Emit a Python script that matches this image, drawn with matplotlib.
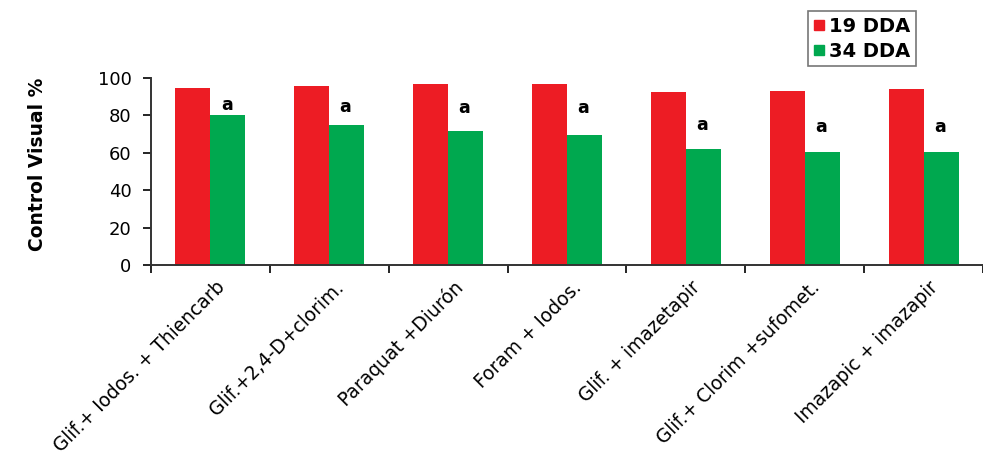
import matplotlib.pyplot as plt
import numpy as np
from matplotlib.lines import Line2D
from matplotlib.transforms import ScaledTranslation

# values
treatments = ['Glif.+ Iodos. + Thiencarb', 'Glif.+2,4-D+clorim.', 'Paraquat +Diurón',
              'Foram + Iodos.', 'Glif. + imazetapir', 'Glif.+ Clorim +sufomet.',
              'Imazapic + imazapir']
dda19 = [94.7, 95.7, 96.8, 96.8, 92.5, 93.0, 94.1]
dda34 = [80.2, 74.9, 71.7, 69.5, 62.0, 60.4, 60.4]
letters = ['a', 'a', 'a', 'a', 'a', 'a', 'a']
letter_y = [85.6, 84.5, 84.0, 84.0, 75.0, 74.0, 74.0]
series_names = ['19 DDA', '34 DDA']

RED = '#ED1C24'
GREEN = '#00A84F'

plt.rcParams['font.family'] = ['DejaVu Sans']

fig = plt.figure(figsize=(9.83, 4.61), dpi=100)
ax = fig.add_axes([0.1536, 0.4252, 0.8464, 0.4056])

x = np.arange(len(treatments))
w = 0.295
ax.bar(x - w / 2, dda19, w, color=RED, zorder=2)
ax.bar(x + w / 2, dda34, w, color=GREEN, zorder=2)
for xi, lt, ly in zip(x, letters, letter_y):
    ax.text(xi + w / 2 - 0.01, ly, lt, ha='center', va='center',
            fontsize=12.5, fontweight='heavy')

ax.set_xlim(-0.5, len(treatments) - 0.5)
ax.set_ylim(0, 100)
ax.set_yticks(range(0, 101, 20))
ax.tick_params(axis='y', labelsize=13, length=6, width=1.2, direction='out', pad=8)

# major ticks mark the group borders, minor ones carry the names
ax.set_xticks(np.arange(-0.5, len(treatments), 1))
ax.set_xticklabels([])
ax.tick_params(axis='x', length=6, width=1.2, direction='out')
ax.set_xticks(x, minor=True)
ax.set_xticklabels(treatments, minor=True, rotation=45, ha='right',
                   rotation_mode='anchor', fontsize=13.4)
ax.tick_params(axis='x', which='minor', length=0, pad=9)
for lbl in ax.get_xticklabels(minor=True):
    lbl.set_transform(lbl.get_transform() + ScaledTranslation(0.05, 0, fig.dpi_scale_trans))

for s in ['top', 'right']:
    ax.spines[s].set_visible(False)
for s in ['left', 'bottom']:
    ax.spines[s].set_linewidth(1.4)
    ax.spines[s].set_color('#333333')

ax.set_ylabel('Control Visual %', fontsize=13.5, fontweight='bold')
ax.yaxis.set_label_coords(-0.125, 0.54)

handles = [Line2D([], [], marker='s', color=c, linestyle='none', markersize=6.5)
           for c in (RED, GREEN)]
leg = fig.legend(handles, series_names, loc='upper left',
                 bbox_to_anchor=(808 / 983, 1 - 11 / 461), frameon=True,
                 fancybox=False, prop={'weight': 'bold', 'size': 14},
                 handlelength=0.5, handletextpad=0.3, borderpad=0.3,
                 labelspacing=0.3, borderaxespad=0)
leg.get_frame().set_edgecolor('#555555')
leg.get_frame().set_linewidth(1.2)

fig.savefig('out.png', dpi=100)
